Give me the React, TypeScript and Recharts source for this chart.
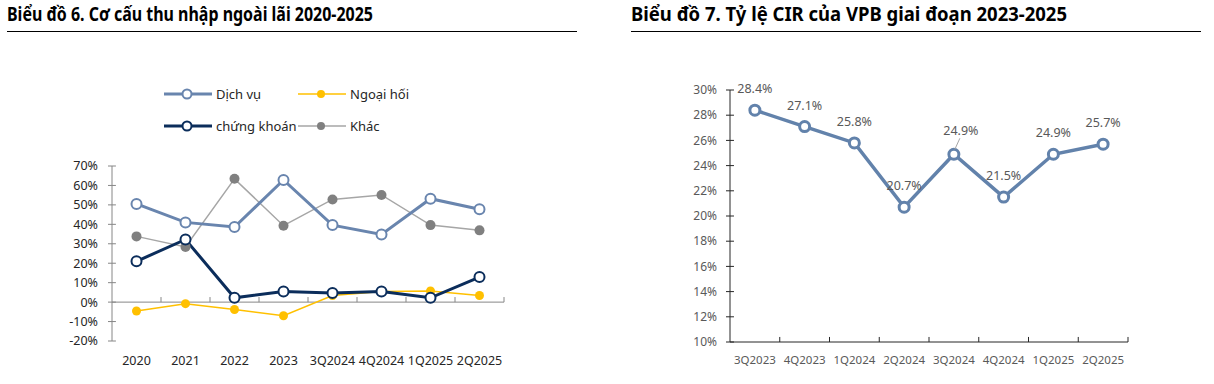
import React from 'react';
import { LineChart, Line, XAxis, YAxis, ReferenceLine, Legend, LabelList } from 'recharts';

// ---------- Chart 6 data ----------
const leftCategories = ['2020', '2021', '2022', '2023', '3Q2024', '4Q2024', '1Q2025', '2Q2025'];
const dichVu = [50.5, 41.0, 38.6, 62.8, 39.6, 34.8, 53.2, 47.8];
const ngoaiHoi = [-4.6, -0.8, -3.8, -7.0, 3.4, 5.5, 5.7, 3.4];
const chungKhoan = [21.0, 32.2, 2.2, 5.5, 4.7, 5.5, 2.2, 12.9];
const khac = [33.8, 28.4, 63.4, 39.3, 52.8, 55.1, 39.6, 36.9];
const leftYTicks = [-20, -10, 0, 10, 20, 30, 40, 50, 60, 70];

// ---------- Chart 7 data ----------
const rightCategories = ['3Q2023', '4Q2023', '1Q2024', '2Q2024', '3Q2024', '4Q2024', '1Q2025', '2Q2025'];
const cir = [28.4, 27.1, 25.8, 20.7, 24.9, 21.5, 24.9, 25.7];
const rightYTicks = [10, 12, 14, 16, 18, 20, 22, 24, 26, 28, 30];

const boundaries = [-0.5, 0.5, 1.5, 2.5, 3.5, 4.5, 5.5, 6.5, 7.5];
const indexTicks = [0, 1, 2, 3, 4, 5, 6, 7];

const leftData = leftCategories.map((c, i) => ({
  i,
  cat: c,
  dichVu: dichVu[i],
  ngoaiHoi: ngoaiHoi[i],
  chungKhoan: chungKhoan[i],
  khac: khac[i],
}));
const rightData = rightCategories.map((c, i) => ({ i, cat: c, cir: cir[i] }));

const C_DV = '#6985AE';
const C_NH = '#FFC000';
const C_CK = '#0B2D5B';
const C_KH = '#808080';
const C_CIR = '#6282AB';

const FONT = '"Noto Sans", "DejaVu Sans", sans-serif';

const legendItems = [
  { name: 'Dịch vụ', color: C_DV, width: 3, open: true },
  { name: 'Ngoại hối', color: C_NH, width: 1.5, open: false },
  { name: 'chứng khoán', color: C_CK, width: 3, open: true },
  { name: 'Khác', color: '#A6A6A6', dot: C_KH, width: 1.5, open: false },
];

const renderLegend = () => (
  <svg width={280} height={50} style={{ overflow: 'visible' }}>
    {legendItems.map((it, k) => {
      const col = k % 2;
      const row = Math.floor(k / 2);
      const x0 = col * 134;
      const y0 = 10 + row * 32;
      return (
        <g key={it.name}>
          <line x1={x0} y1={y0} x2={x0 + 48} y2={y0} stroke={it.color} strokeWidth={it.width} />
          {it.open ? (
            <circle cx={x0 + 23} cy={y0} r={4.5} fill="#fff" stroke={it.color} strokeWidth={2} />
          ) : (
            <circle cx={x0 + 23} cy={y0} r={4} fill={(it as any).dot || it.color} />
          )}
          <text x={x0 + 52} y={y0 + 4.5} fontSize={13} fill="#262626" fontFamily={FONT}>
            {it.name}
          </text>
        </g>
      );
    })}
  </svg>
);

const CirLabel = (props: any) => {
  const vb = props.viewBox || {};
  const x = vb.x ?? props.x;
  const y = vb.y ?? props.y;
  const idx = props.index;
  const lifted = idx === 4;
  const tx = lifted ? x + 7 : x;
  const ty = y - (lifted ? 19 : 17);
  return (
    <g>
      {lifted && <line x1={x + 1} y1={y - 5} x2={x + 6} y2={y - 16} stroke="#A6A6A6" strokeWidth={1} />}
      <text x={tx} y={ty} textAnchor="middle" fontSize={12.5} fill="#595959" fontFamily={FONT}>
        {`${Number(props.value).toFixed(1)}%`}
      </text>
    </g>
  );
};

export default function App() {
  return (
    <div style={{ position: 'absolute', left: 0, top: 0, width: 1214, height: 384, background: '#fff', fontFamily: FONT }}>
      <svg width={1214} height={40} style={{ position: 'absolute', left: 0, top: 0 }}>
        <text x={7} y={21} fontSize={19} fontWeight="bold" fill="#000" fontFamily={FONT} textLength={366} lengthAdjust="spacingAndGlyphs">
          Biểu đồ 6. Cơ cấu thu nhập ngoài lãi 2020-2025
        </text>
        <line x1={7} y1={31.5} x2={577} y2={31.5} stroke="#000" strokeWidth={1} />
        <text x={631} y={21} fontSize={19} fontWeight="bold" fill="#000" fontFamily={FONT} textLength={436} lengthAdjust="spacingAndGlyphs">
          Biểu đồ 7. Tỷ lệ CIR của VPB giai đoạn 2023-2025
        </text>
        <line x1={631} y1={31.5} x2={1201} y2={31.5} stroke="#000" strokeWidth={1} />
      </svg>

      <div style={{ position: 'absolute', left: 0, top: 0 }}>
        <LineChart width={607} height={384} data={leftData} margin={{ top: 166, right: 103, bottom: 13, left: 52 }}>
          <XAxis
            dataKey="i"
            type="number"
            domain={[-0.5, 7.5]}
            ticks={indexTicks}
            interval={0}
            tickFormatter={(v: number) => leftCategories[v] ?? ''}
            axisLine={false}
            tickLine={false}
            tickSize={0}
            tickMargin={15}
            height={30}
            tick={{ fontSize: 12.5, fill: '#262626', fontFamily: FONT }}
          />
          <YAxis
            domain={[-20, 70]}
            ticks={leftYTicks}
            interval={0}
            tickFormatter={(v: number) => `${v}%`}
            axisLine={{ stroke: '#868686' }}
            tickLine={{ stroke: '#868686' }}
            tickSize={4}
            tickMargin={10}
            width={60}
            tick={{ fontSize: 12.5, fill: '#262626', fontFamily: FONT }}
          />
          <ReferenceLine y={0} stroke="#868686" strokeWidth={1} />
          {boundaries.slice(1).map((b) => (
            <ReferenceLine key={'lb' + b} segment={[{ x: b, y: 0 }, { x: b, y: 2.6 }]} stroke="#868686" />
          ))}
          {leftYTicks.map((t) => (
            <ReferenceLine key={'ly' + t} segment={[{ x: -0.5, y: t }, { x: -0.42, y: t }]} stroke="#868686" />
          ))}
          <Legend layout="horizontal" verticalAlign="middle" align="center" content={renderLegend}
            wrapperStyle={{ top: 84, left: 164, width: 280, height: 50 }} />
          <Line dataKey="khac" name="Khác" stroke="#A6A6A6" strokeWidth={1.5} isAnimationActive={false}
            dot={{ r: 5, fill: C_KH, stroke: C_KH, strokeWidth: 0 }} />
          <Line dataKey="dichVu" name="Dịch vụ" stroke={C_DV} strokeWidth={3} isAnimationActive={false}
            dot={{ r: 5, fill: '#fff', stroke: C_DV, strokeWidth: 2 }} />
          <Line dataKey="ngoaiHoi" name="Ngoại hối" stroke={C_NH} strokeWidth={1.5} isAnimationActive={false}
            dot={{ r: 4.5, fill: C_NH, stroke: C_NH, strokeWidth: 0 }} />
          <Line dataKey="chungKhoan" name="chứng khoán" stroke={C_CK} strokeWidth={3} isAnimationActive={false}
            dot={{ r: 5, fill: '#fff', stroke: C_CK, strokeWidth: 2 }} />
        </LineChart>
      </div>

      <div style={{ position: 'absolute', left: 607, top: 0 }}>
        <LineChart width={607} height={384} data={rightData} margin={{ top: 90, right: 86, bottom: 12, left: 63 }}>
          <XAxis
            dataKey="i"
            type="number"
            domain={[-0.5, 7.5]}
            ticks={indexTicks}
            interval={0}
            tickFormatter={(v: number) => rightCategories[v] ?? ''}
            axisLine={{ stroke: '#262626' }}
            tickLine={false}
            tickSize={0}
            tickMargin={14}
            height={30}
            tick={{ fontSize: 11.5, fill: '#595959', fontFamily: FONT }}
          />
          <YAxis
            domain={[10, 30]}
            ticks={rightYTicks}
            interval={0}
            tickFormatter={(v: number) => `${v}%`}
            axisLine={{ stroke: '#262626' }}
            tickLine={{ stroke: '#262626' }}
            tickSize={4}
            tickMargin={9}
            width={60}
            tick={{ fontSize: 12, fill: '#595959', fontFamily: FONT }}
          />
          {boundaries.slice(1).map((b) => (
            <ReferenceLine key={'rb' + b} segment={[{ x: b, y: 10 }, { x: b, y: 10.4 }]} stroke="#262626" />
          ))}
          {rightYTicks.map((t) => (
            <ReferenceLine key={'ry' + t} segment={[{ x: -0.5, y: t }, { x: -0.42, y: t }]} stroke="#262626" />
          ))}
          <Line dataKey="cir" name="CIR" stroke={C_CIR} strokeWidth={3.5} isAnimationActive={false}
            dot={{ r: 5, fill: '#fff', stroke: C_CIR, strokeWidth: 3 }}>
            <LabelList dataKey="cir" content={CirLabel} />
          </Line>
        </LineChart>
      </div>
    </div>
  );
}
